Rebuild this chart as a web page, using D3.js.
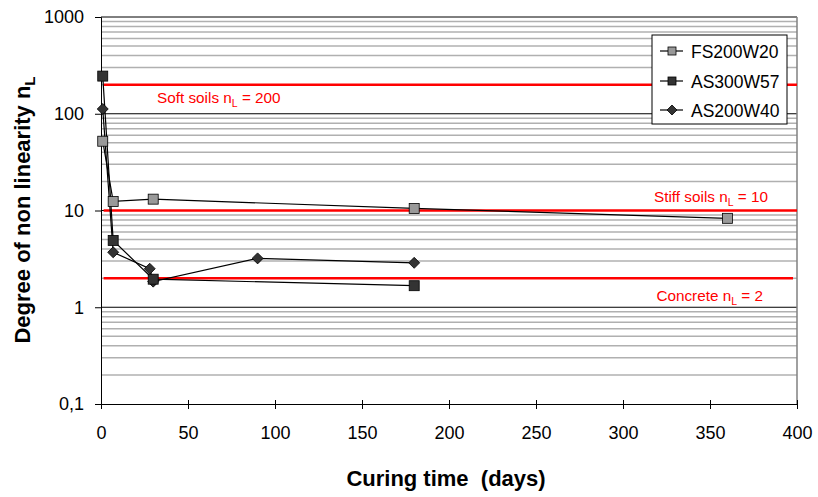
<!DOCTYPE html>
<html><head><meta charset="utf-8">
<script src="https://cdn.jsdelivr.net/npm/d3@7"></script>
<style>body{margin:0;background:#fff;} text{font-family:Arial,"Liberation Sans",sans-serif;}</style>
</head><body><svg id="c" width="818" height="497"></svg>
<script>
const xTicks = [0,50,100,150,200,250,300,350,400];
const yTicks = [0.1,1,10,100,1000];
const yTickLabels = ["0,1","1","10","100","1000"];
const fsDays = [1,7,30,180,360];
const fsVals = [52,12.4,13.1,10.5,8.3];
const as300Days = [1,7,30,180];
const as300Vals = [245,4.9,1.95,1.67];
const as200Days = [1,7,28,30,90,180];
const as200Vals = [112,3.7,2.5,1.84,3.2,2.88];
const refVals = [200,10,2];
const refLabels = ["Soft soils n","Stiff soils n","Concrete n"];
const refLabelNums = [" = 200"," = 10"," = 2"];
const seriesNames = ["FS200W20","AS300W57","AS200W40"];

const svg = d3.select("#c");
const L=101,R=797,T=17,B=404;
const x = d3.scaleLinear().domain([0,400]).range([L,R]);
const y = d3.scaleLog().domain([0.1,1000]).range([B,T]);

// minor gridlines
const minors=[];
[0.1,1,10,100].forEach(d=>{for(let k=2;k<=9;k++) minors.push(d*k);});
svg.selectAll(".minor").data(minors).join("line")
  .attr("x1",L).attr("x2",R).attr("y1",d=>y(d)).attr("y2",d=>y(d))
  .attr("stroke","#b0b0b0").attr("stroke-width",1.5);
svg.selectAll(".major").data([1,10,100,1000]).join("line")
  .attr("x1",L).attr("x2",R).attr("y1",d=>y(d)).attr("y2",d=>y(d))
  .attr("stroke","#000").attr("stroke-width",1);
// right border
svg.append("line").attr("x1",R).attr("x2",R).attr("y1",T).attr("y2",B).attr("stroke","#808080").attr("stroke-width",1.5);

// axes
const yAxis = d3.axisLeft(y).tickValues(yTicks).tickFormat((d,i)=>yTickLabels[i]).tickSize(6).tickPadding(11);
const gy = svg.append("g").attr("transform",`translate(${L},0)`).call(yAxis);
gy.select(".domain").attr("stroke","#000");
gy.selectAll("text").attr("font-size",18).attr("fill","#000").attr("font-family","Arial, Liberation Sans, sans-serif");
const xAxis = d3.axisBottom(x).tickValues(xTicks).tickSize(5).tickPadding(17);
const gx = svg.append("g").attr("transform",`translate(0,${B})`).call(xAxis);
gx.select(".domain").attr("stroke","#000");
gx.selectAll(".tick line").attr("y1",-4);
gx.selectAll("text").attr("font-size",18).attr("fill","#000").attr("font-family","Arial, Liberation Sans, sans-serif");

// reference lines
const refX2 = [R,R,793];
svg.selectAll(".ref").data(refVals).join("line")
  .attr("x1",x(1.5)).attr("x2",(d,i)=>refX2[i]).attr("y1",d=>y(d)).attr("y2",d=>y(d))
  .attr("stroke","#ff0000").attr("stroke-width",2.5);
const refPos = [{x:157,anchor:"start",dy:18},{x:768,anchor:"end",dy:-9},{x:763,anchor:"end",dy:22.5}];
refVals.forEach((v,i)=>{
  const t = svg.append("text").attr("x",refPos[i].x).attr("y",y(v)+refPos[i].dy)
    .attr("text-anchor",refPos[i].anchor).attr("fill","#ff0000").attr("font-size",15.3);
  t.append("tspan").text(refLabels[i]);
  t.append("tspan").text("L").attr("font-size",10.5).attr("dy",4);
  t.append("tspan").text(refLabelNums[i]).attr("dy",-4);
});

// series
const line = d3.line().x(d=>x(d[0])).y(d=>y(d[1]));
const fs = fsDays.map((d,i)=>[d,fsVals[i]]);
const a3 = as300Days.map((d,i)=>[d,as300Vals[i]]);
const a2 = as200Days.map((d,i)=>[d,as200Vals[i]]);
[fs,a3,a2].forEach(s=>svg.append("path").attr("d",line(s)).attr("fill","none").attr("stroke","#000").attr("stroke-width",1.2));
function square(g,cx,cy,s,fill){g.append("rect").attr("x",cx-s/2).attr("y",cy-s/2).attr("width",s).attr("height",s).attr("fill",fill).attr("stroke","#000").attr("stroke-width",0.8);}
function diamond(g,cx,cy,s,fill){g.append("path").attr("d",`M${cx},${cy-s/2}L${cx+s/2},${cy}L${cx},${cy+s/2}L${cx-s/2},${cy}Z`).attr("fill",fill).attr("stroke","#000").attr("stroke-width",0.8);}
a2.forEach(d=>diamond(svg,x(d[0]),y(d[1]),11,"#333333"));
a3.forEach(d=>square(svg,x(d[0]),y(d[1]),10,"#333333"));
fs.forEach(d=>square(svg,x(d[0]),y(d[1]),10,"#999999"));

// legend
const lg = svg.append("g");
lg.append("rect").attr("x",652).attr("y",35).attr("width",135).attr("height",89).attr("fill","#fff").attr("stroke","#000").attr("stroke-width",1);
const lys=[51,81,110];
const lfills=["#999999","#333333","#333333"];
seriesNames.forEach((n,i)=>{
  lg.append("line").attr("x1",660).attr("x2",683).attr("y1",lys[i]).attr("y2",lys[i]).attr("stroke","#000").attr("stroke-width",1.2);
  if(i<2) square(lg,672,lys[i],8,lfills[i]); else diamond(lg,672,lys[i],10,lfills[i]);
  lg.append("text").attr("x",691).attr("y",lys[i]+6.5).attr("font-size",17.5).text(n);
});

// axis titles
const yt = svg.append("text").attr("transform","translate(30,210) rotate(-90)").attr("text-anchor","middle").attr("font-size",22).attr("font-weight","bold");
yt.append("tspan").text("Degree of non linearity n");
yt.append("tspan").text("L").attr("font-size",15).attr("dy",5);
svg.append("text").attr("x",446).attr("y",486).attr("text-anchor","middle").attr("font-size",22).attr("font-weight","bold")
  .style("white-space","pre").attr("xml:space","preserve").text("Curing time  (days)");
</script></body></html>
